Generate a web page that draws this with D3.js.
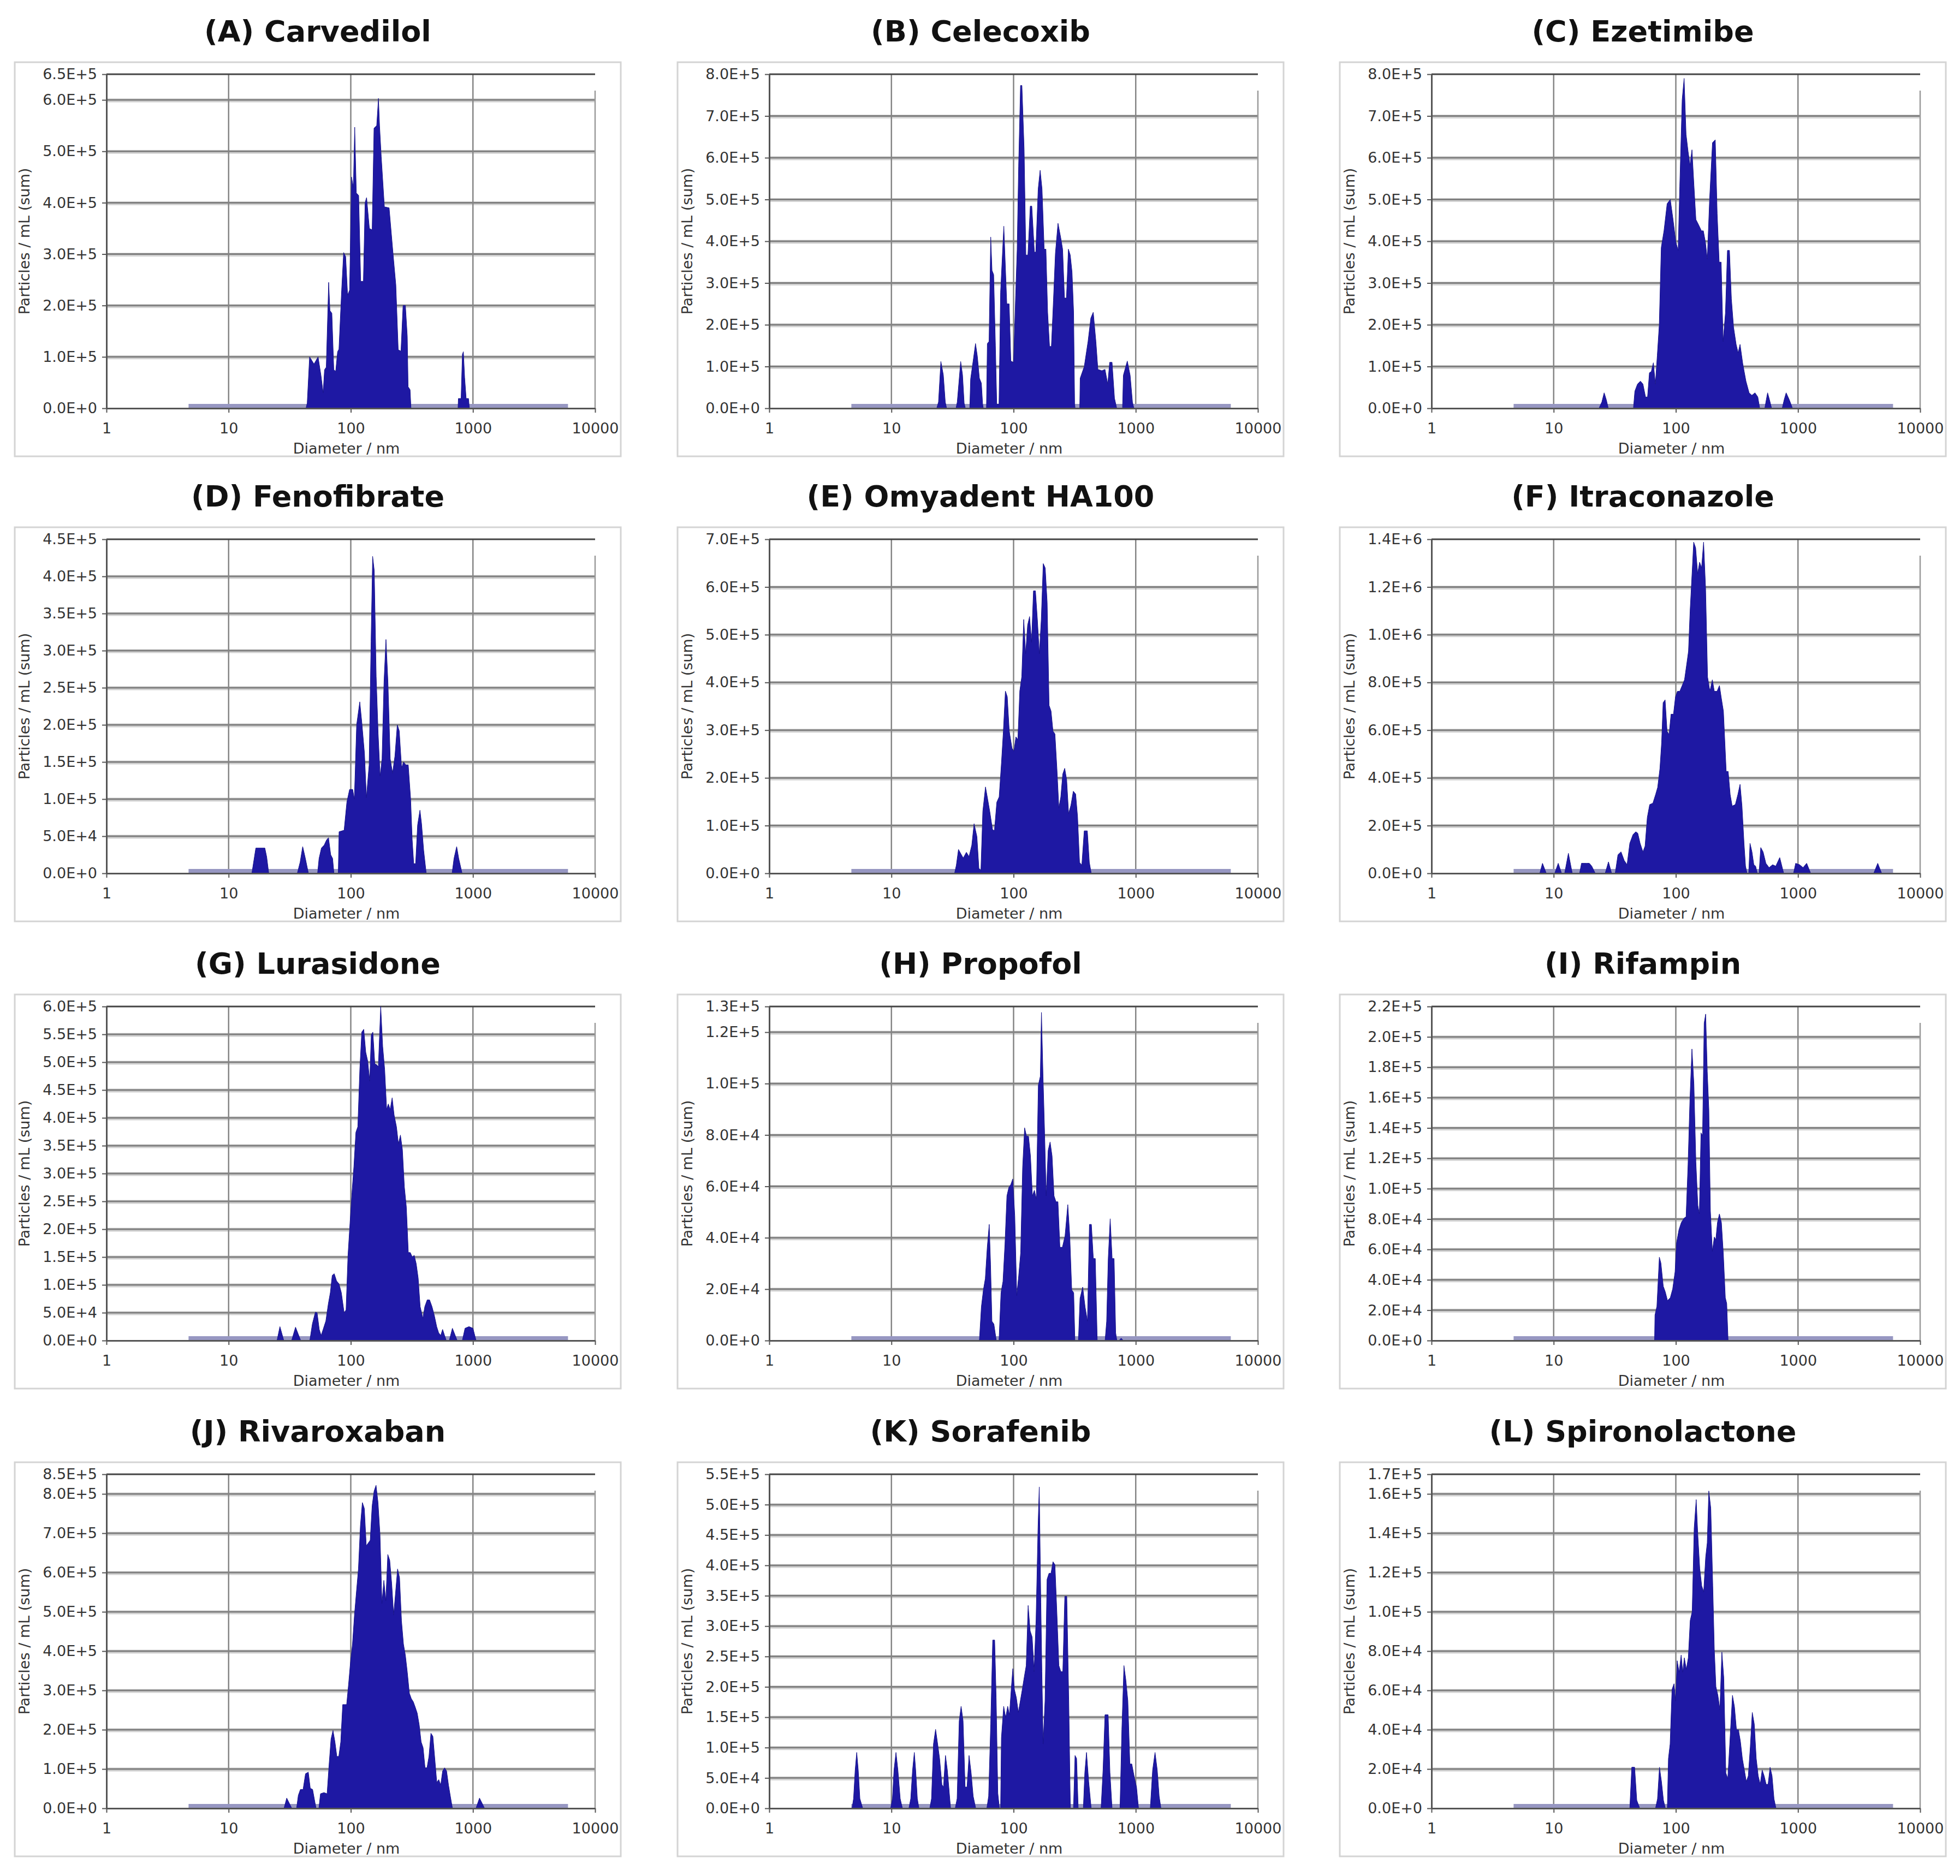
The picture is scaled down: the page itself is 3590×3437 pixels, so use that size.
<!DOCTYPE html>
<html>
<head>
<meta charset="utf-8">
<script src="https://cdn.jsdelivr.net/npm/d3@7"></script>
<style>
  body { margin: 0; background: #fff; }
  svg { display: block; }
</style>
</head>
<body>
<svg id="chart" width="3590" height="3437"></svg>
<script>
/**
 * Particle size distributions (NTA), twelve panels.
 * Each series is a list of [diameter in nm, particles / mL].
 */
var titles = [
  '(A) Carvedilol', '(B) Celecoxib', '(C) Ezetimibe',
  '(D) Fenofibrate', '(E) Omyadent HA100', '(F) Itraconazole',
  '(G) Lurasidone', '(H) Propofol', '(I) Rifampin',
  '(J) Rivaroxaban', '(K) Sorafenib', '(L) Spironolactone'
];

// top of the y axis and the step between y ticks, per panel
var yMax  = [6.5e5, 8e5, 8e5, 4.5e5, 7e5, 1.4e6, 6e5, 1.3e5, 2.2e5, 8.5e5, 5.5e5, 1.7e5];
var yStep = [1e5,   1e5, 1e5, 5e4,   1e5, 2e5,   5e4, 2e4,   2e4,   1e5,   5e4,   2e4];

var xTicks = [1, 10, 100, 1000, 10000];

// the measured size range (flat zero line of every series)
var measuredRange = [4.7, 6000];

var carvedilol = [
  [43,0],[44,0.1e5],[46,1.0e5],[50,0.86e5],[54,1.0e5],[57,0.64e5],[59.4,0.3e5],[61,0.75e5],[63,0.8e5],
  [65.9,2.45e5],[67.5,1.9e5],[70,1.85e5],[72.6,0.75e5],[75.3,0.72e5],[78,1.1e5],[80,1.15e5],[84.2,2.3e5],
  [87.4,3.03e5],[90.8,2.95e5],[94.2,2.2e5],[97.8,2.3e5],[101.5,4.5e5],[105,4.3e5],[107.7,5.47e5],[111,4.19e5],
  [116,4.14e5],[120.5,2.47e5],[126.9,2.47e5],[131,4.0e5],[134.7,4.1e5],[142,3.5e5],[149.6,3.47e5],[155,5.45e5],
  [163,5.5e5],[168.5,6.03e5],[172,5.5e5],[177.5,4.9e5],[188.4,3.92e5],[206,3.9e5],[222,3.0e5],[233.8,2.4e5],
  [244.5,1.14e5],[257.6,1.11e5],[268,2.0e5],[280,2.0e5],[290,1.4e5],[294.6,0.42e5],[305.8,0.36e5],[311,0],
  [755,0],[760,0.19e5],[800,0.19e5],[820,1.05e5],[835,1.1e5],[855,0.6e5],[880,0.19e5],[920,0.19e5],[935,0]
];

var celecoxib = [
  [23.5,0],[24.3,0.15e5],[25.4,1.12e5],[26.6,0.8e5],[27.6,0.15e5],[28.3,0],
  [33.8,0],[34.6,0.15e5],[36.9,1.12e5],[38.2,0.8e5],[39.4,0.12e5],[40.3,0],
  [43.8,0],[44.5,0.7e5],[47,1.2e5],[48.8,1.55e5],[50.5,1.25e5],[52.5,0.72e5],[54.5,0.6e5],[55.8,0.1e5],[56.5,0],
  [60,0],[61,1.55e5],[63,1.6e5],[65,4.1e5],[66.6,3.3e5],[68.7,3.2e5],[71,1.5e5],[72.8,0.1e5],[76,0.1e5],
  [78.3,2.78e5],[83.2,4.36e5],[88,2.5e5],[92,2.5e5],[95,1.13e5],[100,1.1e5],[104,2.7e5],[107,3.8e5],[110,5.8e5],
  [114,7.73e5],[117,7.73e5],[122,6.2e5],[126,3.67e5],[131,3.67e5],[137,4.84e5],[141,4.84e5],[148,3.74e5],
  [152,3.74e5],[159,5.25e5],[165,5.7e5],[171,5.25e5],[178,3.81e5],[184,3.81e5],[190,2.3e5],[197,1.48e5],
  [204,1.48e5],[212,2.58e5],[220,3.71e5],[231,4.43e5],[243,4.09e5],[252,3.81e5],[261,2.64e5],[271,2.64e5],
  [281,3.81e5],[291,3.67e5],[301,3.26e5],[310,2.3e5],[316,0.1e5],[319,0],
  [348,0],[351,0.72e5],[379,1.0e5],[407,1.6e5],[429,2.16e5],[449,2.3e5],[472,1.6e5],[490,0.93e5],[528,0.9e5],
  [560,0.93e5],[590,0.58e5],[612,1.1e5],[640,1.1e5],[670,0.24e5],[699,0],
  [780,0],[792,0.79e5],[853,1.13e5],[900,0.79e5],[940,0.15e5],[966,0]
];

var ezetimibe = [
  [23.5,0],[24.8,0.15e5],[25.9,0.37e5],[27,0.2e5],[28,0],
  [45,0],[46.2,0.41e5],[48.6,0.58e5],[51.3,0.65e5],[53.8,0.58e5],[56.5,0.27e5],[58.7,0.27e5],[60.8,0.85e5],
  [63,0.88e5],[65.5,1.09e5],[68,0.58e5],[70.5,1.26e5],[73.2,2.0e5],[76,3.85e5],[80,4.25e5],[84.9,4.9e5],
  [90.1,5.0e5],[94.9,4.52e5],[100,3.98e5],[104.5,3.78e5],[107.7,5.31e5],[112.7,7.39e5],[116.9,7.9e5],
  [121.3,6.56e5],[126,6.15e5],[130.7,5.82e5],[135.6,6.19e5],[140.7,5.34e5],[146,4.52e5],[153.8,4.39e5],
  [162,4.25e5],[168,4.25e5],[174.6,3.98e5],[181,3.57e5],[189,5.0e5],[199.6,6.36e5],[210.3,6.43e5],[218,4.66e5],
  [226.4,3.5e5],[235,3.5e5],[243.8,1.6e5],[254.8,2.28e5],[264.6,3.78e5],[274.8,3.78e5],[285,2.62e5],[297,1.94e5],
  [311.7,1.53e5],[323.6,1.33e5],[335.6,1.53e5],[353.5,1.06e5],[375,0.65e5],[398,0.37e5],[419.5,0.31e5],
  [444.6,0.37e5],[469,0.27e5],[486,0],
  [535,0],[550,0.2e5],[564,0.37e5],[585,0.2e5],[608,0],
  [743,0],[770,0.2e5],[800,0.37e5],[850,0.2e5],[901,0]
];

var fenofibrate = [
  [15.5,0],[16.7,0.34e5],[19.8,0.34e5],[20.5,0.22e5],[21.3,0],
  [36.5,0],[38.5,0.15e5],[40.4,0.36e5],[42.5,0.2e5],[45,0],
  [53.5,0],[55,0.2e5],[57.5,0.34e5],[60.6,0.38e5],[63.4,0.45e5],[65.7,0.48e5],[68.5,0.25e5],[71,0.2e5],[72.8,0],
  [79,0],[80.2,0.56e5],[88.2,0.58e5],[92.9,0.96e5],[97.8,1.13e5],[103.7,1.13e5],[107,1.0e5],[111.7,2.0e5],
  [118.5,2.31e5],[123,2.04e5],[129.4,1.62e5],[134.3,1.02e5],[141.3,1.46e5],[146.6,3.12e5],[151,4.27e5],
  [155.6,4.08e5],[161.4,2.65e5],[167.5,1.88e5],[173.8,1.31e5],[180.3,1.54e5],[187.1,2.58e5],[194.1,3.15e5],
  [201.4,2.58e5],[210.4,1.54e5],[219.8,1.35e5],[229.9,1.58e5],[240.3,2.0e5],[249.3,1.92e5],[260.6,1.42e5],
  [270.4,1.5e5],[282.6,1.46e5],[295.4,1.46e5],[309,1.0e5],[318,0.46e5],[327.5,0.13e5],[339.6,0.13e5],
  [352.4,0.65e5],[368.4,0.85e5],[379.5,0.67e5],[395,0.31e5],[414.6,0],
  [675,0],[700,0.2e5],[736,0.36e5],[765,0.2e5],[815,0]
];

var omyadent = [
  [32.9,0],[34,0.17e5],[35.4,0.5e5],[37,0.41e5],[38.7,0.32e5],[41.1,0.44e5],[43.2,0.35e5],[45.5,0.59e5],
  [47.5,1.04e5],[50.1,0.77e5],[52,0.11e5],[54,0.05e5],[56,1.3e5],[58.9,1.81e5],[61.5,1.54e5],[63.8,1.3e5],
  [67.2,0.92e5],[69.7,0.89e5],[72.9,1.49e5],[76.2,1.6e5],[79.6,2.32e5],[82.5,2.98e5],[85.7,3.82e5],[88.8,3.7e5],
  [92.2,2.98e5],[97.1,2.62e5],[100.7,2.56e5],[104.5,2.86e5],[108.4,2.8e5],[112.4,3.82e5],[116.7,4.12e5],
  [121.1,5.32e5],[125.6,4.6e5],[130.3,5.2e5],[135.2,5.38e5],[140.3,4.84e5],[145.5,5.92e5],[151,5.92e5],
  [156.6,5.32e5],[162.5,4.6e5],[168.6,5.32e5],[174.9,6.49e5],[181.5,6.4e5],[188.3,5.68e5],[195.3,3.52e5],
  [202.6,3.4e5],[210.2,2.98e5],[218.1,2.92e5],[226.3,2.2e5],[234.8,1.37e5],[243.6,1.6e5],[252.7,2.08e5],
  [262.2,2.2e5],[272,1.96e5],[282.2,1.25e5],[295,1.43e5],[308.3,1.72e5],[322.2,1.66e5],[334,1.19e5],
  [346.7,0.23e5],[362,0.17e5],[378.7,0.89e5],[401.5,0.89e5],[417,0.23e5],[432.4,0]
];

var itraconazole = [
  [7.7,0],[8.1,0.42e5],[8.7,0],
  [10.2,0],[10.9,0.42e5],[11.6,0],
  [12.3,0],[13.2,0.84e5],[14.2,0],
  [16.3,0],[16.9,0.42e5],[18.5,0.42e5],[19.6,0.42e5],[20.5,0.3e5],[21.9,0],
  [26.4,0],[28.1,0.48e5],[29.8,0],
  [31.9,0],[33.6,0.78e5],[35.6,0.9e5],[37.8,0.54e5],[39.9,0.36e5],[42,1.26e5],[44.6,1.62e5],[47,1.74e5],
  [48.8,1.68e5],[51,1.26e5],[53.8,0.9e5],[56,1.14e5],[58.4,2.34e5],[61.1,2.88e5],[64.9,2.94e5],[68.3,3.3e5],
  [71,3.6e5],[74.1,4.39e5],[76.5,5.47e5],[78.7,7.15e5],[81.7,7.27e5],[84.8,5.95e5],[88.1,5.83e5],[91.4,6.67e5],
  [95.7,6.67e5],[99.3,7.39e5],[103.1,7.63e5],[107.8,7.63e5],[112.7,7.87e5],[117.8,8.11e5],[123.3,8.83e5],
  [127,9.31e5],[130.9,1.1e6],[135.8,1.256e6],[140,1.388e6],[145.3,1.364e6],[150.9,1.256e6],[156.6,1.304e6],
  [162.5,1.28e6],[168.8,1.388e6],[175.2,1.196e6],[181.9,8.23e5],[190.2,7.63e5],[199,8.11e5],[206.6,7.63e5],
  [217.6,7.63e5],[227.6,7.87e5],[235,7.39e5],[245.3,6.79e5],[258.4,4.27e5],[268.3,4.27e5],[278.6,3.3e5],
  [289.2,2.82e5],[307,2.88e5],[322,3.3e5],[335.7,3.73e5],[348,2.82e5],[361.6,1.26e5],[372,0.3e5],[383,0],
  [395,0],[404.9,1.26e5],[420,0.9e5],[435,0.36e5],[450,0.3e5],[465,0],
  [480,0],[495.5,1.08e5],[518,0.9e5],[546,0.42e5],[580,0.24e5],[620,0.36e5],[658,0.3e5],[709,0.66e5],[764,0],
  [920,0],[957,0.42e5],[1031,0.36e5],[1100,0.24e5],[1178,0.42e5],[1270,0],
  [4170,0],[4496,0.42e5],[4842,0]
];

var lurasidone = [
  [24.9,0],[26.3,0.25e5],[28.3,0],
  [32.8,0],[35.3,0.24e5],[38.9,0],
  [46.2,0],[48.5,0.3e5],[51.3,0.51e5],[53,0.5e5],[55.2,0.2e5],[57.2,0.09e5],[59.4,0.2e5],[62.5,0.35e5],
  [65.5,0.66e5],[68,0.86e5],[70.5,1.17e5],[73.2,1.2e5],[76.5,1.07e5],[80,1.02e5],[83.7,0.86e5],[88.2,0.5e5],
  [91.5,0.55e5],[94.9,1.53e5],[98.5,2.1e5],[102.3,2.66e5],[106,3.12e5],[110.1,3.74e5],[114.2,3.84e5],
  [118.6,4.87e5],[123,5.54e5],[127.7,5.59e5],[132.6,5.18e5],[137.6,5.02e5],[142.9,4.66e5],[147.2,5.49e5],
  [151.6,5.54e5],[157.3,4.97e5],[163.3,4.95e5],[168.2,4.92e5],[175.8,6.0e5],[182.5,5.28e5],[189.4,4.87e5],
  [196.6,4.15e5],[203,4.25e5],[210.2,4.15e5],[218.2,4.36e5],[226.4,4.05e5],[236.6,3.84e5],[245.6,3.53e5],
  [254.9,3.69e5],[264.6,3.43e5],[274.6,2.76e5],[285,2.4e5],[295.8,1.58e5],[307,1.58e5],[318.7,1.5e5],
  [330.7,1.53e5],[343.3,1.38e5],[356.3,1.12e5],[369.8,0.61e5],[389.2,0.4e5],[403.8,0.61e5],[422.4,0.73e5],
  [441.6,0.73e5],[462.1,0.61e5],[483,0.45e5],[505,0.25e5],[524,0.14e5],[545,0.09e5],[564.5,0.2e5],
  [586,0.09e5],[605,0],
  [640,0],[679,0.22e5],[743,0],
  [818.6,0],[861.5,0.22e5],[928.5,0.25e5],[1000,0.22e5],[1061,0]
];

var propofol = [
  [52.5,0],[54.5,1.31e4],[56.6,1.97e4],[58.7,2.41e4],[60.9,3.63e4],[63.2,4.52e4],[64.8,2.97e4],[66.5,0.75e4],
  [69,0.64e4],[72.2,0],
  [76,0],[78.9,1.86e4],[81.9,2.3e4],[85,3.74e4],[88.2,5.63e4],[91.5,5.96e4],[94.9,6.07e4],[98.5,6.29e4],
  [102.3,4.85e4],[106.2,1.75e4],[110.1,2.52e4],[114.3,3.41e4],[118.6,6.73e4],[123.1,8.28e4],[127.7,7.95e4],
  [132.5,7.95e4],[137.5,7.18e4],[142.6,5.63e4],[148,5.85e4],[153.6,5.51e4],[159.5,9.94e4],[165.5,1.028e5],
  [169.1,1.277e5],[174.2,1.028e5],[179.5,8.06e4],[184.9,5.63e4],[191.9,7.4e4],[199.1,7.73e4],[206.6,7.18e4],
  [214.4,5.63e4],[222.5,5.4e4],[230.8,5.4e4],[239.5,3.63e4],[251,3.63e4],[263.8,4.07e4],[277.9,5.29e4],
  [288.4,4.07e4],[299.3,1.97e4],[310.6,1.86e4],[317.7,0],
  [339.5,0],[350,1.64e4],[368,2.08e4],[385,1.31e4],[402.5,0.75e4],[417.8,4.52e4],[433.4,4.52e4],
  [449.7,3.19e4],[466.6,3.19e4],[484,0],
  [561.3,0],[578,0.75e4],[595.6,3.19e4],[618,4.74e4],[641,3.19e4],[665,3.19e4],[685,0.3e4],[701,0],
  [730,0],[760,0.09e4],[790,0]
];

var rifampin = [
  [67,0],[67.5,1.68e4],[70,2.25e4],[73.3,5.49e4],[75.5,5.1e4],[78.9,3.58e4],[82,3.2e4],[85.5,2.63e4],
  [90.1,2.82e4],[94.2,3.39e4],[98.6,4.53e4],[101.4,6.44e4],[106.1,7.3e4],[110.9,7.77e4],[116.8,8.06e4],
  [121.3,8.15e4],[125.9,1.158e5],[130.6,1.596e5],[135.5,1.92e5],[140.6,1.69e5],[145.9,1.177e5],[151.4,8.91e4],
  [155.8,8.34e4],[160.7,1.368e5],[165.5,1.349e5],[170.6,2.09e5],[175.5,2.15e5],[180.9,1.77e5],[186.4,1.52e5],
  [191.9,8.53e4],[199.1,5.87e4],[206.6,6.82e4],[212.5,6.63e4],[219.2,7.77e4],[227.4,8.34e4],[236.1,7.77e4],
  [245,5.68e4],[254.2,2.82e4],[261,2.44e4],[267.8,0]
];

var rivaroxaban = [
  [28.4,0],[29.9,0.26e5],[32.9,0],
  [36,0],[37.2,0.33e5],[38.7,0.48e5],[40.7,0.48e5],[42.6,0.88e5],[44.9,0.92e5],[46.6,0.51e5],[48.7,0.48e5],
  [50.9,0.15e5],[52,0],
  [54.8,0],[56.5,0.37e5],[60.3,0.4e5],[64,0.37e5],[66.4,1.1e5],[68.9,1.76e5],[71.5,1.98e5],[74.2,1.69e5],
  [76.9,1.32e5],[79.8,1.32e5],[82.8,1.69e5],[85.9,2.64e5],[89.1,2.64e5],[92.5,2.64e5],[95.9,3.15e5],
  [99.6,3.74e5],[103.3,4.18e5],[107.2,4.92e5],[111.2,5.5e5],[115.5,6.09e5],[119.9,7.19e5],[124.4,7.78e5],
  [129.1,7.63e5],[133.9,6.68e5],[139,6.75e5],[144.2,6.82e5],[149.6,7.7e5],[155.2,8.07e5],[161,8.22e5],
  [167.1,7.78e5],[173.4,6.97e5],[179.9,5.21e5],[186.6,5.8e5],[193.6,5.28e5],[200.9,6.46e5],[208.4,6.31e5],
  [216.2,5.72e5],[224.4,4.92e5],[232.8,5.5e5],[241.6,6.09e5],[250.7,5.87e5],[260.1,4.77e5],[269.9,4.18e5],
  [280,3.89e5],[290.5,3.45e5],[301.6,2.93e5],[313,2.79e5],[325,2.71e5],[337.3,2.57e5],[349.9,2.42e5],
  [363,2.13e5],[376.7,1.69e5],[390.9,1.54e5],[405.5,1.03e5],[420.8,1.03e5],[436.6,1.32e5],[453,1.91e5],
  [470,1.83e5],[487.6,1.25e5],[505.9,0.66e5],[524.9,0.73e5],[544.6,0.59e5],[565,0.95e5],[586.3,1.03e5],
  [608.3,0.95e5],[631,0.59e5],[654.8,0.29e5],[679.4,0],
  [1059,0],[1132,0.26e5],[1245,0]
];

var sorafenib = [
  [4.76,0],[4.9,0.16e5],[5.05,0.63e5],[5.2,0.92e5],[5.35,0.63e5],[5.52,0.16e5],[5.82,0],
  [9.86,0],[10.2,0.16e5],[10.5,0.63e5],[10.9,0.92e5],[11.3,0.63e5],[11.8,0.16e5],[12.3,0],
  [13.9,0],[14.4,0.16e5],[14.9,0.63e5],[15.4,0.92e5],[15.8,0.63e5],[16.3,0.16e5],[16.8,0],
  [20.6,0],[21.3,0.16e5],[22.1,1.06e5],[23,1.3e5],[23.9,1.06e5],[24.8,0.82e5],[25.9,0.39e5],[26.7,0.35e5],
  [27.7,0.87e5],[28.7,0.63e5],[29.5,0.35e5],[30.5,0],
  [33.3,0],[34.5,0.16e5],[35.9,1.44e5],[37.2,1.68e5],[38.6,1.44e5],[40.1,0.35e5],[41.6,0.35e5],[43.2,0.87e5],
  [44.9,0.59e5],[46.7,0.2e5],[49,0],
  [60.4,0],[62.5,0.2e5],[65,1.39e5],[67.5,2.77e5],[70,2.77e5],[72,1.82e5],[74.3,0.25e5],[76.6,0],
  [78.3,0],[79.5,1.16e5],[83,1.68e5],[86.2,1.49e5],[89.5,1.68e5],[92.5,1.54e5],[95.7,1.96e5],[98.6,2.3e5],
  [101.5,1.96e5],[105.4,1.82e5],[109.4,1.58e5],[113.6,1.77e5],[117.9,1.96e5],[122.3,2.16e5],[126.9,2.35e5],
  [131.6,3.34e5],[136.7,2.92e5],[141.9,2.82e5],[147.2,2.25e5],[152.8,3.1e5],[158.6,4.63e5],[162.3,5.29e5],
  [167.1,3.39e5],[170.5,2.25e5],[174.6,1.06e5],[181,1.77e5],[188,3.77e5],[195.1,3.87e5],[202.5,3.87e5],
  [210.2,4.06e5],[218.1,4.01e5],[226.4,3.2e5],[234.9,2.35e5],[243.8,2.25e5],[253,2.25e5],[262.6,3.49e5],
  [272.6,3.49e5],[283,1.77e5],[291.6,0],
  [309.4,0],[318.5,0.87e5],[328,0.82e5],[338,0],
  [372.5,0],[383,0.59e5],[395.4,0.92e5],[412,0.44e5],[432,0],
  [520.4,0],[540,0.63e5],[560.3,1.54e5],[594.3,1.54e5],[615,0.59e5],[640,0],
  [743.3,0],[770,1.3e5],[800.5,2.35e5],[830.4,2.11e5],[862,1.77e5],[895.4,0.73e5],[928.6,0.73e5],
  [978,0.49e5],[1015,0.35e5],[1054,0],
  [1316,0],[1375,0.63e5],[1439,0.92e5],[1500,0.63e5],[1555,0.2e5],[1608,0]
];

var spironolactone = [
  [42,0],[43.6,2.09e4],[46,2.09e4],[47.9,0.41e4],[49.3,0.2e4],[50.6,0],
  [68.2,0],[70.8,0.48e4],[73.5,2.09e4],[76.3,1.36e4],[79.2,0.41e4],[82.1,0],
  [85.2,0],[87,2.53e4],[89.8,3.27e4],[93.1,6.05e4],[96.7,6.34e4],[99.5,5.46e4],[102.6,7.51e4],[106.4,6.93e4],
  [110.6,7.8e4],[114,6.93e4],[117.4,7.66e4],[121.9,7.07e4],[126.5,7.66e4],[131.2,9.56e4],[136.1,1.0e5],
  [141.3,1.425e5],[146.8,1.571e5],[151.2,1.396e5],[157,1.22e5],[162.9,1.132e5],[169.1,1.102e5],[175.5,1.278e5],
  [180.8,1.351e5],[186.2,1.615e5],[193.3,1.527e5],[200.6,1.132e5],[206.5,8.1e4],[212.9,6.19e4],[221,5.75e4],
  [229.5,5.02e4],[238.2,7.95e4],[247,6.63e4],[256.6,1.8e4],[266.2,1.51e4],[276.3,3.27e4],[290.9,5.75e4],
  [302,5.17e4],[313.6,4.0e4],[325.5,4.0e4],[337.8,3.41e4],[350.6,2.53e4],[363.9,1.95e4],[377.7,1.36e4],
  [392,1.65e4],[407,3.12e4],[422.5,4.88e4],[438.7,4.29e4],[455.3,2.53e4],[472.6,1.65e4],[490.6,1.22e4],
  [509.2,1.95e4],[528.5,1.65e4],[548.6,1.22e4],[569.4,1.22e4],[590.9,2.09e4],[613.4,1.65e4],[636.5,0.48e4],
  [660.5,0]
];

var series = [
  carvedilol, celecoxib, ezetimibe,
  fenofibrate, omyadent, itraconazole,
  lurasidone, propofol, rifampin,
  rivaroxaban, sorafenib, spironolactone
];

// Layout of the 4 x 3 grid of framed panels
var boxW = 1110, boxH = 722;
var colX = [27, 1241, 2454];
var rowY = [114, 966, 1822, 2679];
var plot = { left: 168, width: 895, top: 22, zero: 634 };

var FONT = 'DejaVu Sans';
var SMALL = 27;
var BLUE = '#1e18a3';

var svg = d3.select('#chart');
svg.append('rect').attr('width', 3590).attr('height', 3437).attr('fill', '#fff');

series.forEach(function(data, i) {
  var g = svg.append('g')
    .attr('transform', 'translate(' + colX[i % 3] + ',' + rowY[Math.floor(i / 3)] + ')');
  drawPanel(g, i, data);
});

/**
 * Draws one framed panel: title, grid, log x axis, linear y axis, filled distribution.
 */
function drawPanel(g, i, data) {
  var x = d3.scaleLog().domain([1, 10000]).range([plot.left, plot.left + plot.width]);
  var y = d3.scaleLinear().domain([0, yMax[i]]).range([plot.zero, plot.top]);

  // light frame around the panel
  g.append('rect')
    .attr('x', 0).attr('y', 0)
    .attr('width', boxW).attr('height', boxH)
    .attr('fill', 'none')
    .attr('stroke', '#d4d4d4')
    .attr('stroke-width', 3);

  g.append('text')
    .attr('x', boxW / 2)
    .attr('y', -38)
    .attr('text-anchor', 'middle')
    .attr('font-family', FONT)
    .attr('font-weight', 'bold')
    .attr('font-size', 54)
    .attr('fill', '#111')
    .text(titles[i]);

  // y ticks: regular steps, plus the axis top when it is off-step
  var ticks = d3.range(0, yMax[i] + yStep[i] / 2, yStep[i])
    .filter(function(v) { return v < yMax[i] - yStep[i] / 100; });
  ticks.push(yMax[i]);

  var inner = ticks.filter(function(v) { return v > 0 && v < yMax[i]; });

  // horizontal grid: soft band with a darker core
  g.append('g').selectAll('line')
    .data(inner)
    .enter().append('line')
    .attr('x1', x(1)).attr('x2', x(10000))
    .attr('y1', function(d) { return y(d) + 1; })
    .attr('y2', function(d) { return y(d) + 1; })
    .attr('stroke', '#d2d2d2')
    .attr('stroke-width', 7);

  g.append('g').selectAll('line')
    .data(inner)
    .enter().append('line')
    .attr('x1', x(1)).attr('x2', x(10000))
    .attr('y1', function(d) { return y(d); })
    .attr('y2', function(d) { return y(d); })
    .attr('stroke', '#7f7f7f')
    .attr('stroke-width', 3);

  // vertical grid at each decade
  g.append('g').selectAll('line')
    .data(xTicks.slice(1))
    .enter().append('line')
    .attr('x1', function(d) { return x(d); })
    .attr('x2', function(d) { return x(d); })
    .attr('y1', function(d) { return d === 10000 ? y(yMax[i]) + 30 : y(yMax[i]); })
    .attr('y2', y(0))
    .attr('stroke', function(d) { return d === 10000 ? '#9a9a9a' : '#858585'; })
    .attr('stroke-width', 2.5);

  // darker line at the top of the axis
  g.append('line')
    .attr('x1', x(1)).attr('x2', x(10000))
    .attr('y1', y(yMax[i])).attr('y2', y(yMax[i]))
    .attr('stroke', '#444')
    .attr('stroke-width', 3);

  // flat part of the series over the measured range
  g.append('line')
    .attr('x1', x(measuredRange[0])).attr('x2', x(measuredRange[1]))
    .attr('y1', y(0) - 4).attr('y2', y(0) - 4)
    .attr('stroke', '#9797c2')
    .attr('stroke-width', 8);

  var area = d3.area()
    .x(function(d) { return x(d[0]); })
    .y0(y(0))
    .y1(function(d) { return y(d[1]); });

  g.append('path')
    .datum(data)
    .attr('d', area)
    .attr('fill', BLUE)
    .attr('stroke', '#16128c')
    .attr('stroke-width', 1);

  var fmt = function(v) { return d3.format('.1e')(v).toUpperCase(); };

  var yAxis = g.append('g')
    .attr('transform', 'translate(' + x(1) + ',0)')
    .call(d3.axisLeft(y).tickValues(ticks).tickFormat(fmt)
      .tickSizeInner(8).tickSizeOuter(0).tickPadding(9));

  var xAxis = g.append('g')
    .attr('transform', 'translate(0,' + y(0) + ')')
    .call(d3.axisBottom(x).tickValues(xTicks).tickFormat(d3.format('d'))
      .tickSizeInner(8).tickSizeOuter(0).tickPadding(19));

  [yAxis, xAxis].forEach(function(a) {
    a.attr('font-family', FONT).attr('font-size', SMALL);
    a.select('.domain').attr('stroke', '#555').attr('stroke-width', 3);
    a.selectAll('.tick line').attr('stroke', '#555').attr('stroke-width', 2);
    a.selectAll('.tick text').attr('fill', '#333');
  });

  g.append('text')
    .attr('transform', 'translate(17,' + ((plot.top + plot.zero) / 2) + ') rotate(-90)')
    .attr('text-anchor', 'middle')
    .attr('dominant-baseline', 'central')
    .attr('font-family', FONT)
    .attr('font-size', SMALL)
    .attr('fill', '#333')
    .text('Particles / mL (sum)');

  g.append('text')
    .attr('x', plot.left + plot.width / 2 - 8)
    .attr('y', 717)
    .attr('text-anchor', 'middle')
    .attr('font-family', FONT)
    .attr('font-size', SMALL)
    .attr('fill', '#333')
    .text('Diameter / nm');
}
</script>
</body>
</html>
